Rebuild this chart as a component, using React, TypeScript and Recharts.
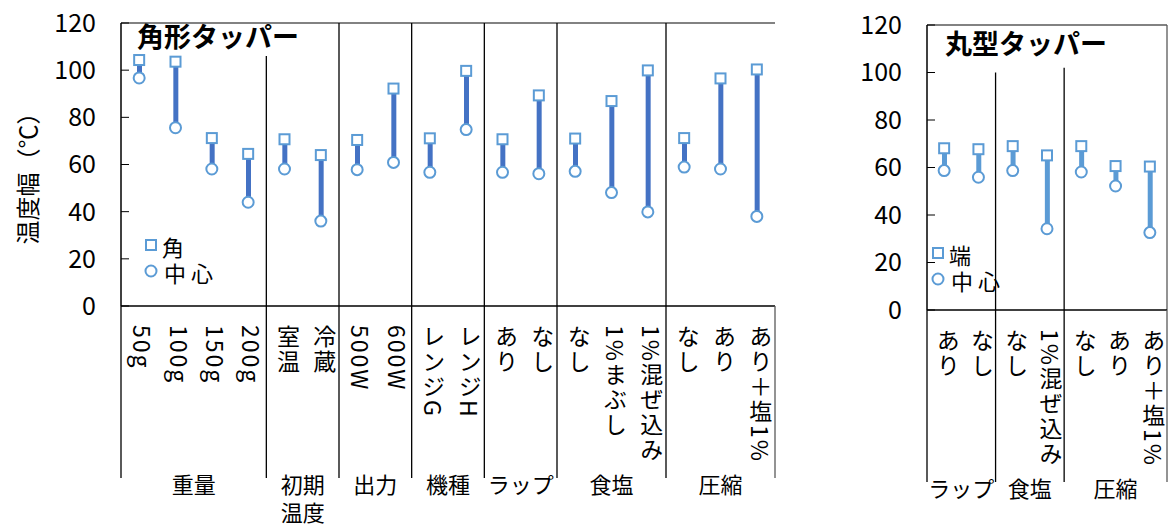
import React from 'react';
import { ComposedChart, Bar, Line, XAxis, YAxis, ReferenceLine, Legend } from 'recharts';

// 角形タッパー
const squareLabels = ['50g', '100g', '150g', '200g', '室温', '冷蔵', '500W', '600W', 'レンジG', 'レンジH', 'あり', 'なし', 'なし', '1%まぶし', '1%混ぜ込み', 'なし', 'あり', 'あり＋塩1%'];
const squareCorner = [104.3, 103.6, 71.2, 64.5, 70.7, 64.0, 70.4, 92.2, 71.1, 99.7, 70.7, 89.3, 71.0, 86.9, 99.9, 71.2, 96.5, 100.3];
const squareCenter = [96.7, 75.6, 58.1, 44.0, 58.1, 36.0, 57.8, 60.9, 56.7, 74.8, 56.7, 56.1, 57.1, 48.1, 39.9, 58.9, 58.1, 38.0];
const squareGroups = [['重量'], ['初期', '温度'], ['出力'], ['機種'], ['ラップ'], ['食塩'], ['圧縮']];
const squareGroupSizes = [4, 2, 2, 2, 2, 3, 3];

// 丸型タッパー
const roundLabels = ['あり', 'なし', 'なし', '1%混ぜ込み', 'なし', 'あり', 'あり＋塩1%'];
const roundCorner = [68.1, 67.7, 69.0, 65.1, 69.0, 60.6, 60.4];
const roundCenter = [58.7, 55.9, 58.7, 34.2, 58.1, 52.2, 32.6];
const roundGroups = [['ラップ'], ['食塩'], ['圧縮']];
const roundGroupSizes = [2, 2, 3];

const yTicks = [0, 20, 40, 60, 80, 100, 120];

const FONT = '"Noto Sans CJK JP", "Noto Sans", sans-serif';
const MARKER = '#5B9BD5';

const buildRows = (labels: string[], corner: number[], center: number[]) =>
  labels.map((label, i) => ({
    key: 'c' + i,
    label,
    corner: corner[i],
    center: center[i],
    range: [center[i], corner[i]],
  }));

const SquareDot = (props: any) => {
  const { cx, cy, index } = props;
  if (cx == null || cy == null) return null;
  return <rect key={'sq' + index} x={cx - 5} y={cy - 5} width={10} height={10} fill="#fff" stroke={MARKER} strokeWidth={2} />;
};

const CircleDot = (props: any) => {
  const { cx, cy, index } = props;
  if (cx == null || cy == null) return null;
  return <circle key={'ci' + index} cx={cx} cy={cy} r={5.5} fill="#fff" stroke={MARKER} strokeWidth={2} />;
};

// vertical category labels + group separators and group names below the axis
const CategoryTick = (props: any) => {
  const { x, y, payload, labels, groups, sizes, width } = props;
  const i = payload.index;
  const half = payload.offset || width / labels.length / 2;
  let start = 0;
  let gi = -1;
  for (let g = 0; g < sizes.length; g++) {
    if (i === start) { gi = g; break; }
    start += sizes[g];
  }
  const lineEnd = y + 172;
  return (
    <g>
      <text x={x + 4} y={y + 19} fontSize={23} letterSpacing={2} fontFamily={FONT} fill="#000" style={{ writingMode: 'vertical-rl' }}>
        {labels[i]}
      </text>
      {gi >= 0 && <line x1={x - half} x2={x - half} y1={y} y2={lineEnd} stroke="#000" strokeWidth={1.3} />}
      {gi >= 0 && groups[gi].map((t: string, k: number) => (
        <text key={k} x={x - half + sizes[gi] * half} y={y + 187 + k * 28} textAnchor="middle" fontSize={22} fontFamily={FONT} fill="#000">
          {t}
        </text>
      ))}
      {i === labels.length - 1 && <line x1={x + half} x2={x + half} y1={y} y2={lineEnd} stroke="#595959" strokeWidth={1.3} />}
    </g>
  );
};

const LegendBox = ({ cornerName }: { cornerName: string }) => (
  <div style={{ fontFamily: FONT, fontSize: 22, lineHeight: '26px', color: '#000' }}>
    <div style={{ display: 'flex', alignItems: 'center', height: 26 }}>
      <svg width={16} height={16}><rect x={2} y={2} width={10} height={10} fill="#fff" stroke={MARKER} strokeWidth={2} /></svg>
      <span style={{ marginLeft: 2 }}>{cornerName}</span>
    </div>
    <div style={{ display: 'flex', alignItems: 'center', height: 26 }}>
      <svg width={16} height={16}><circle cx={7} cy={7} r={5.5} fill="#fff" stroke={MARKER} strokeWidth={2} /></svg>
      <span style={{ marginLeft: 4, letterSpacing: 5 }}>中心</span>
    </div>
  </div>
);

type PanelProps = {
  labels: string[];
  corner: number[];
  center: number[];
  groups: string[][];
  sizes: number[];
  width: number;
  top: number;
  bottom: number;
  right: number;
  yWidth: number;
  lineColor: string;
  sepTops: number[];
  cornerName: string;
  legendPos: { left: number; top: number };
  yTitle?: string;
};

const Panel = (p: PanelProps) => {
  const rows = buildRows(p.labels, p.corner, p.center);
  const starts: string[] = [];
  let s = 0;
  p.sizes.forEach((n) => { starts.push(rows[s].key); s += n; });
  return (
    <ComposedChart width={p.width} height={527} data={rows} margin={{ top: p.top, right: p.right, bottom: 0, left: 0 }}>
      <XAxis
        dataKey="key"
        interval={0}
        height={527 - p.bottom}
        tickLine={false}
        tickSize={0}
        tickMargin={0}
        axisLine={{ stroke: '#000', strokeWidth: 1.5 }}
        tick={<CategoryTick labels={p.labels} groups={p.groups} sizes={p.sizes} />}
      />
      <YAxis
        domain={[0, 120]}
        ticks={yTicks}
        interval={0}
        width={p.yWidth}
        tickSize={-8}
        tickMargin={33}
        axisLine={{ stroke: '#000', strokeWidth: 1.5 }}
        tickLine={{ stroke: '#000' }}
        tick={{ fontSize: 25, fontFamily: FONT, fill: '#000' }}
        label={p.yTitle ? (lp: any) => {
          const vb = lp.viewBox;
          const cy = vb.y + vb.height / 2 + 8;
          return (
            <text x={26} y={cy} transform={`rotate(-90 26 ${cy})`} textAnchor="middle" dominantBaseline="central" fontSize={24} fontFamily={FONT} fill="#000">
              {p.yTitle}
            </text>
          );
        } : undefined}
      />
      <ReferenceLine y={120} stroke="#595959" strokeWidth={1.3} />
      <ReferenceLine x={rows[rows.length - 1].key} position="end" stroke="#595959" strokeWidth={1.3} />
      {starts.slice(1).map((k, i) => (
        <ReferenceLine key={k} position="start" segment={[{ x: k, y: 0 }, { x: k, y: p.sepTops[i] }]} stroke="#000" strokeWidth={1.3} ifOverflow="visible" />
      ))}
      <Legend
        layout="vertical"
        align="center"
        verticalAlign="middle"
        wrapperStyle={{ position: 'absolute', left: p.legendPos.left, top: p.legendPos.top, width: 'auto' }}
        content={() => <LegendBox cornerName={p.cornerName} />}
      />
      <Bar dataKey="range" barSize={5} fill={p.lineColor} isAnimationActive={false} legendType="none" />
      <Line dataKey="corner" stroke="none" dot={SquareDot} activeDot={false} isAnimationActive={false} legendType="none" />
      <Line dataKey="center" stroke="none" dot={CircleDot} activeDot={false} isAnimationActive={false} legendType="none" />
    </ComposedChart>
  );
};

const titleStyle: React.CSSProperties = {
  position: 'absolute',
  fontFamily: FONT,
  fontWeight: 700,
  fontSize: 27,
  lineHeight: '30px',
  color: '#000',
  whiteSpace: 'nowrap',
};

export default function App() {
  return (
    <div style={{ position: 'absolute', left: 0, top: 0, width: 1172, height: 527, background: '#fff', overflow: 'hidden' }}>
      <div style={{ position: 'absolute', left: 0, top: 0 }}>
        <Panel
          labels={squareLabels}
          corner={squareCorner}
          center={squareCenter}
          groups={squareGroups}
          sizes={squareGroupSizes}
          width={800}
          top={23}
          bottom={306}
          right={25}
          yWidth={121}
          lineColor="#4472C4"
          sepTops={[106, 120, 120, 120, 120, 120]}
          cornerName="角"
          legendPos={{ left: 144, top: 233 }}
          yTitle="温度幅（℃）"
        />
      </div>
      <div style={{ position: 'absolute', left: 820, top: 0 }}>
        <Panel
          labels={roundLabels}
          corner={roundCorner}
          center={roundCenter}
          groups={roundGroups}
          sizes={roundGroupSizes}
          width={352}
          top={25}
          bottom={310}
          right={5}
          yWidth={107}
          lineColor="#5B9BD5"
          sepTops={[100, 102]}
          cornerName="端"
          legendPos={{ left: 111, top: 241 }}
        />
      </div>
      <div style={{ ...titleStyle, left: 137, top: 21 }}>角形タッパー</div>
      <div style={{ ...titleStyle, left: 945, top: 28 }}>丸型タッパー</div>
    </div>
  );
}
